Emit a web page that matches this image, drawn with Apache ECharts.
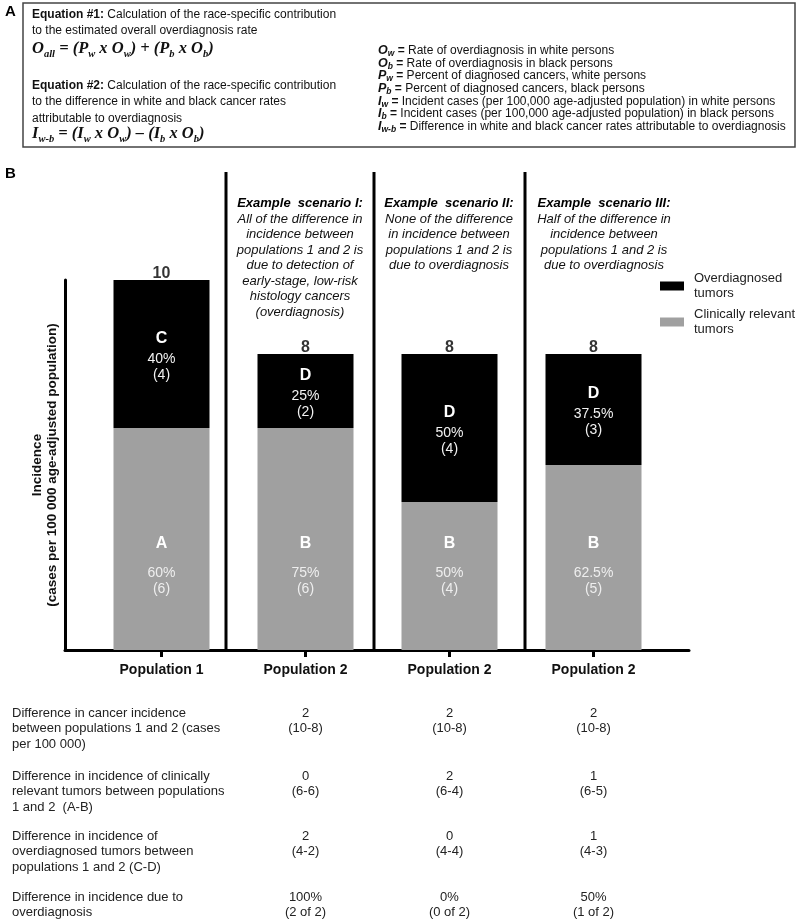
<!DOCTYPE html>
<html><head><meta charset="utf-8">
<script src="https://cdn.jsdelivr.net/npm/echarts@6/dist/echarts.min.js"></script>
<style>html,body{margin:0;padding:0;background:#fff}#c{width:799px;height:922px}</style>
</head><body><div id="c"></div>
<script>
// ---------- data ----------
const categories = ['Population 1', 'Population 2', 'Population 2', 'Population 2'];
const clinicallyRelevant = [6, 6, 4, 5];
const overdiagnosed = [4, 2, 4, 3];
const relLetters = ['A', 'B', 'B', 'B'];
const overLetters = ['C', 'D', 'D', 'D'];
const relPct = ['60%', '75%', '50%', '62.5%'];
const overPct = ['40%', '25%', '50%', '37.5%'];
const seriesNames = ['Overdiagnosed tumors', 'Clinically relevant tumors'];
const yAxisName = 'Incidence\n(cases per 100 000 age-adjusted population)';

const scenarioTitles = ['Example  scenario I:', 'Example  scenario II:', 'Example  scenario III:'];
const scenarioBodies = [
  ['All of the difference in', 'incidence between', 'populations 1 and 2 is', 'due to detection of', 'early-stage, low-risk', 'histology cancers', '(overdiagnosis)'],
  ['None of the difference', 'in incidence between', 'populations 1 and 2 is', 'due to overdiagnosis'],
  ['Half of the difference in', 'incidence between', 'populations 1 and 2 is', 'due to overdiagnosis']
];
const tableRowLabels = [
  'Difference in cancer incidence\nbetween populations 1 and 2 (cases\nper 100 000)',
  'Difference in incidence of clinically\nrelevant tumors between populations\n1 and 2  (A-B)',
  'Difference in incidence of\noverdiagnosed tumors between\npopulations 1 and 2 (C-D)',
  'Difference in incidence due to\noverdiagnosis'
];
const eq1Text = ['Equation #1:', ' Calculation of the race-specific contribution', 'to the estimated overall overdiagnosis rate'];
const eq2Text = ['Equation #2:', ' Calculation of the race-specific contribution', 'to the difference in white and black cancer rates', 'attributable to overdiagnosis'];
const defSymbols = [['O', 'w'], ['O', 'b'], ['P', 'w'], ['P', 'b'], ['I', 'w'], ['I', 'b'], ['I', 'w-b']];
const defTexts = [
  'Rate of overdiagnosis in white persons',
  'Rate of overdiagnosis in black persons',
  'Percent of diagnosed cancers, white persons',
  'Percent of diagnosed cancers, black persons',
  'Incident cases (per 100,000 age-adjusted population) in white persons',
  'Incident cases (per 100,000 age-adjusted population) in black persons',
  'Difference in white and black cancer rates attributable to overdiagnosis'
];

// ---------- derived ----------
const totals = clinicallyRelevant.map((v, i) => v + overdiagnosed[i]);
const FF = '"Liberation Sans", Arial, sans-serif';
const SERIF = '"Liberation Serif", "DejaVu Serif", serif';

const chart = echarts.init(document.getElementById('c'), null, {renderer: 'canvas'});

function legendCfg(name, top) {
  return {
    data: [name], left: 660, top: top, padding: 0, orient: 'vertical',
    icon: 'rect', itemWidth: 24, itemHeight: 9, selectedMode: false,
    formatter: n => n.replace(' tumors', '\ntumors'),
    textStyle: {fontFamily: FF, fontSize: 13, lineHeight: 15, color: '#222', padding: [15, 0, 0, 5]}
  };
}

const option = {
  animation: false,
  backgroundColor: '#fff',
  grid: [
    {left: 65, right: 110, top: 280, bottom: 272},
    {left: 89.5, width: 576, top: 280, bottom: 272}
  ],
  xAxis: [
    {gridIndex: 0, type: 'value', min: 0, max: 1,
     axisLine: {show: true, lineStyle: {color: '#000', width: 3}},
     axisTick: {show: false}, axisLabel: {show: false}, splitLine: {show: false}},
    {gridIndex: 1, type: 'category', data: categories,
     axisLine: {show: false},
     axisTick: {show: true, alignWithLabel: true, length: 7, lineStyle: {color: '#000', width: 3}},
     axisLabel: {fontFamily: FF, fontWeight: 'bold', fontSize: 14, color: '#111', margin: 13}}
  ],
  yAxis: [
    {gridIndex: 0, type: 'value', min: 0, max: 10,
     axisLine: {show: true, lineStyle: {color: '#000', width: 3}},
     axisTick: {show: false}, axisLabel: {show: false}, splitLine: {show: false},
     name: yAxisName, nameLocation: 'middle', nameRotate: 90, nameGap: 5,
     nameTextStyle: {fontFamily: FF, fontWeight: 'bold', fontSize: 13.5, lineHeight: 15, color: '#111'}},
    {gridIndex: 1, type: 'value', min: 0, max: 10, show: false}
  ],
  legend: [legendCfg(seriesNames[0], 263.5), legendCfg(seriesNames[1], 299.5)],
  series: [
    {
      name: seriesNames[1], type: 'bar', xAxisIndex: 1, yAxisIndex: 1, stack: 'inc',
      barWidth: 96, data: clinicallyRelevant, itemStyle: {color: '#a0a0a0'},
      label: {
        show: true, position: 'insideBottom', distance: 53,
        formatter: p => `{l|${relLetters[p.dataIndex]}}\n{p|${relPct[p.dataIndex]}}\n{p|(${p.value})}`,
        rich: {
          l: {fontFamily: FF, fontWeight: 'bold', fontSize: 16, color: '#fff', lineHeight: 20, padding: [0, 0, 23, 0]},
          p: {fontFamily: FF, fontSize: 14, color: '#eeeeee', lineHeight: 16}
        }
      }
    },
    {
      name: seriesNames[0], type: 'bar', xAxisIndex: 1, yAxisIndex: 1, stack: 'inc',
      barWidth: 96, data: overdiagnosed, itemStyle: {color: '#000'},
      label: {
        show: true, position: 'inside', offset: [0, 3],
        formatter: p => `{l|${overLetters[p.dataIndex]}}\n{p|${overPct[p.dataIndex]}}\n{p|(${p.value})}`,
        rich: {
          l: {fontFamily: FF, fontWeight: 'bold', fontSize: 16, color: '#fff', lineHeight: 20, padding: [0, 0, 5, 0]},
          p: {fontFamily: FF, fontSize: 14, color: '#f2f2f2', lineHeight: 16}
        }
      }
    },
    {
      name: 'Total', type: 'scatter', xAxisIndex: 1, yAxisIndex: 1,
      data: totals, symbolSize: 0, silent: true,
      label: {show: true, position: 'top', distance: 1, offset: [0, 2.5], formatter: p => String(p.value),
              fontFamily: FF, fontWeight: 'bold', fontSize: 16, color: '#000'}
    }
  ]
};
chart.setOption(option);

// ---------- graphic decorations ----------
const g = [];
function txt(x, y, text, font, extra) {
  g.push(Object.assign({type: 'text', x: x, y: y, silent: true,
    style: Object.assign({text: text, font: font, fill: '#111', textAlign: 'left', textVerticalAlign: 'middle'}, extra || {})}));
}
// Panel labels
txt(5, 12, 'A', 'bold 15px ' + FF, {fill: '#000'});
txt(5, 174, 'B', 'bold 15px ' + FF, {fill: '#000'});
// Box
g.push({type: 'rect', silent: true, shape: {x: 23, y: 3, width: 772, height: 144},
        style: {fill: 'none', stroke: '#444', lineWidth: 1.5}});
// Equations text
const eqRich = {
  b: {fontFamily: FF, fontWeight: 'bold', fontSize: 12, color: '#111', lineHeight: 16.5},
  r: {fontFamily: FF, fontSize: 12, color: '#111', lineHeight: 16.5}
};
txt(32, 6, `{b|${eq1Text[0]}}{r|${eq1Text[1]}}\n{r|${eq1Text[2]}}`, '12px ' + FF, {rich: eqRich, textVerticalAlign: 'top'});
txt(32, 77, `{b|${eq2Text[0]}}{r|${eq2Text[1]}}\n{r|${eq2Text[2]}}\n{r|${eq2Text[3]}}`, '12px ' + FF, {rich: eqRich, textVerticalAlign: 'top'});
// Formulas
const fRich = {
  m: {fontFamily: SERIF, fontWeight: 'bold', fontStyle: 'italic', fontSize: 16.5, color: '#000', lineHeight: 22},
  s: {fontFamily: SERIF, fontWeight: 'bold', fontStyle: 'italic', fontSize: 10.5, color: '#000', lineHeight: 22, padding: [11, 0, 0, 0]}
};
txt(32, 49, '{m|O}{s|all}{m| = (P}{s|w}{m| x O}{s|w}{m|) + (P}{s|b}{m| x O}{s|b}{m|)}', '16.5px ' + SERIF, {rich: fRich});
txt(32, 134, '{m|I}{s|w-b}{m| = (I}{s|w}{m| x O}{s|w}{m|) \u2013 (I}{s|b}{m| x O}{s|b}{m|)}', '16.5px ' + SERIF, {rich: fRich});
// Definitions
const dRich = {
  v: {fontFamily: FF, fontWeight: 'bold', fontStyle: 'italic', fontSize: 12.5, color: '#000', lineHeight: 12.7},
  vs: {fontFamily: FF, fontWeight: 'bold', fontStyle: 'italic', fontSize: 8.5, color: '#000', lineHeight: 12.7, padding: [6, 0, 0, 0]},
  e: {fontFamily: FF, fontWeight: 'bold', fontSize: 12, color: '#000', lineHeight: 12.7},
  t: {fontFamily: FF, fontSize: 12, color: '#111', lineHeight: 12.7}
};
const defStr = defSymbols.map((s, i) => `{v|${s[0]}}{vs|${s[1]}}{e| = }{t|${defTexts[i]}}`).join('\n');
txt(378, 50.5 - 6.35, defStr, '12px ' + FF, {rich: dRich, textVerticalAlign: 'top'});

// Separators
[226, 374, 525].forEach(x => g.push({type: 'line', silent: true, shape: {x1: x, y1: 172, x2: x, y2: 650},
  style: {stroke: '#000', lineWidth: 3}}));

// Scenario headers
const scenX = [300, 449, 604];
scenarioTitles.forEach((t, i) => {
  txt(scenX[i], 203.5, t, 'italic bold 13px ' + FF, {textAlign: 'center', fill: '#000'});
  txt(scenX[i], 219 - 7.75, scenarioBodies[i].join('\n'), 'italic 13px ' + FF,
      {textAlign: 'center', textVerticalAlign: 'top', lineHeight: 15.5, fill: '#111'});
});

// Table
const rowY = [713, 776, 836, 897];
const tblFont = '13px ' + FF;
tableRowLabels.forEach((t, r) => txt(12, rowY[r] - 7.75, t, tblFont, {textVerticalAlign: 'top', lineHeight: 15.5, fill: '#222'}));
for (let k = 1; k < categories.length; k++) {
  const cx = chart.convertToPixel({xAxisIndex: 1}, k);
  const dT = totals[0] - totals[k];
  const dR = clinicallyRelevant[0] - clinicallyRelevant[k];
  const dO = overdiagnosed[0] - overdiagnosed[k];
  const vals = [
    `${dT}\n(${totals[0]}-${totals[k]})`,
    `${dR}\n(${clinicallyRelevant[0]}-${clinicallyRelevant[k]})`,
    `${dO}\n(${overdiagnosed[0]}-${overdiagnosed[k]})`,
    `${Math.round(dO / dT * 100)}%\n(${dO} of ${dT})`
  ];
  vals.forEach((v, r) => txt(cx, rowY[r] - 7.75, v, tblFont, {textAlign: 'center', textVerticalAlign: 'top', lineHeight: 15.5, fill: '#222'}));
}
chart.setOption({graphic: {elements: g}});
</script>
</body></html>
